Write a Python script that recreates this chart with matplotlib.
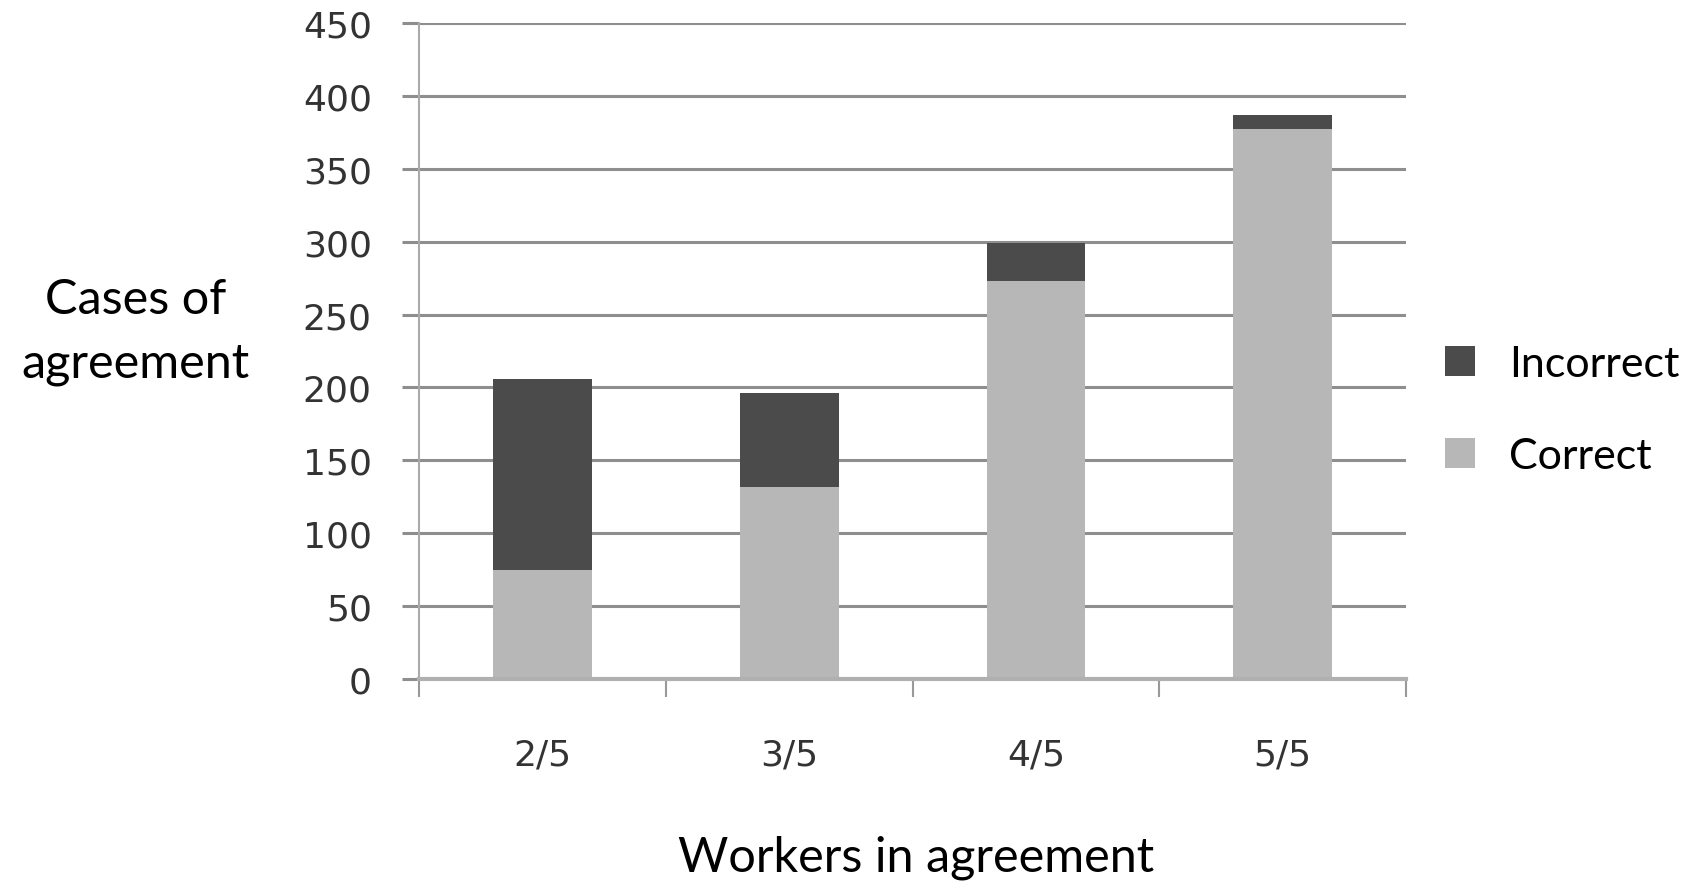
import matplotlib.pyplot as plt
import numpy as np

categories = ['2/5', '3/5', '4/5', '5/5']
correct = [75, 132, 273, 377]
incorrect = [131, 64, 26, 10]
y_ticks = [0, 50, 100, 150, 200, 250, 300, 350, 400, 450]

dark = '#4b4b4b'
light = '#b7b7b7'
grid_c = '#8e8e8e'

fig = plt.figure(figsize=(16.93, 8.87), dpi=100)
ax = fig.add_axes([0.2475, 0.2334, 0.583, 0.7396])

x = np.arange(len(categories))
ax.yaxis.grid(True, color=grid_c, lw=2.2, zorder=0)
ax.set_axisbelow(True)
ax.bar(x, correct, width=0.4, color=light, zorder=2, label='Correct')
ax.bar(x, incorrect, width=0.4, bottom=correct, color=dark, zorder=2, label='Incorrect')

ax.set_xlim(-0.5, 3.5)
ax.set_ylim(0, 450)
ax.set_yticks(y_ticks)
ax.set_yticklabels([str(v) for v in y_ticks], fontsize=26, color='#333333')
ax.set_xticks(x)
ax.set_xticklabels(categories, fontsize=26, color='#333333')
ax.set_xticks(np.arange(-0.5, 4.0, 1.0), minor=True)
ax.tick_params(axis='x', which='major', length=0, pad=42)
ax.tick_params(axis='x', which='minor', length=13, width=1.5, color='#999999')
ax.tick_params(axis='y', length=12, width=2.2, color=grid_c, pad=22)

for side in ['top', 'right']:
    ax.spines[side].set_visible(False)
ax.spines['left'].set_color('#aaaaaa')
ax.spines['left'].set_linewidth(1.5)
ax.spines['bottom'].set_color('#b0b0b0')
ax.spines['bottom'].set_linewidth(3)

fig.text(0.08, 0.626, 'Cases of\nagreement', fontsize=35, family='Lato',
         ha='center', va='center', linespacing=1.55)
fig.text(0.541, 0.033, 'Workers in agreement', fontsize=35, family='Lato',
         ha='center', va='center')

handles, labels = ax.get_legend_handles_labels()
ax.legend(handles[::-1], labels[::-1], loc='center left', bbox_to_anchor=(1.0, 0.41),
          frameon=False, prop={'family': 'Lato', 'size': 31},
          handlelength=0.7, handleheight=0.7, handletextpad=0.8, labelspacing=1.25)

fig.savefig('out.png', dpi=100)
